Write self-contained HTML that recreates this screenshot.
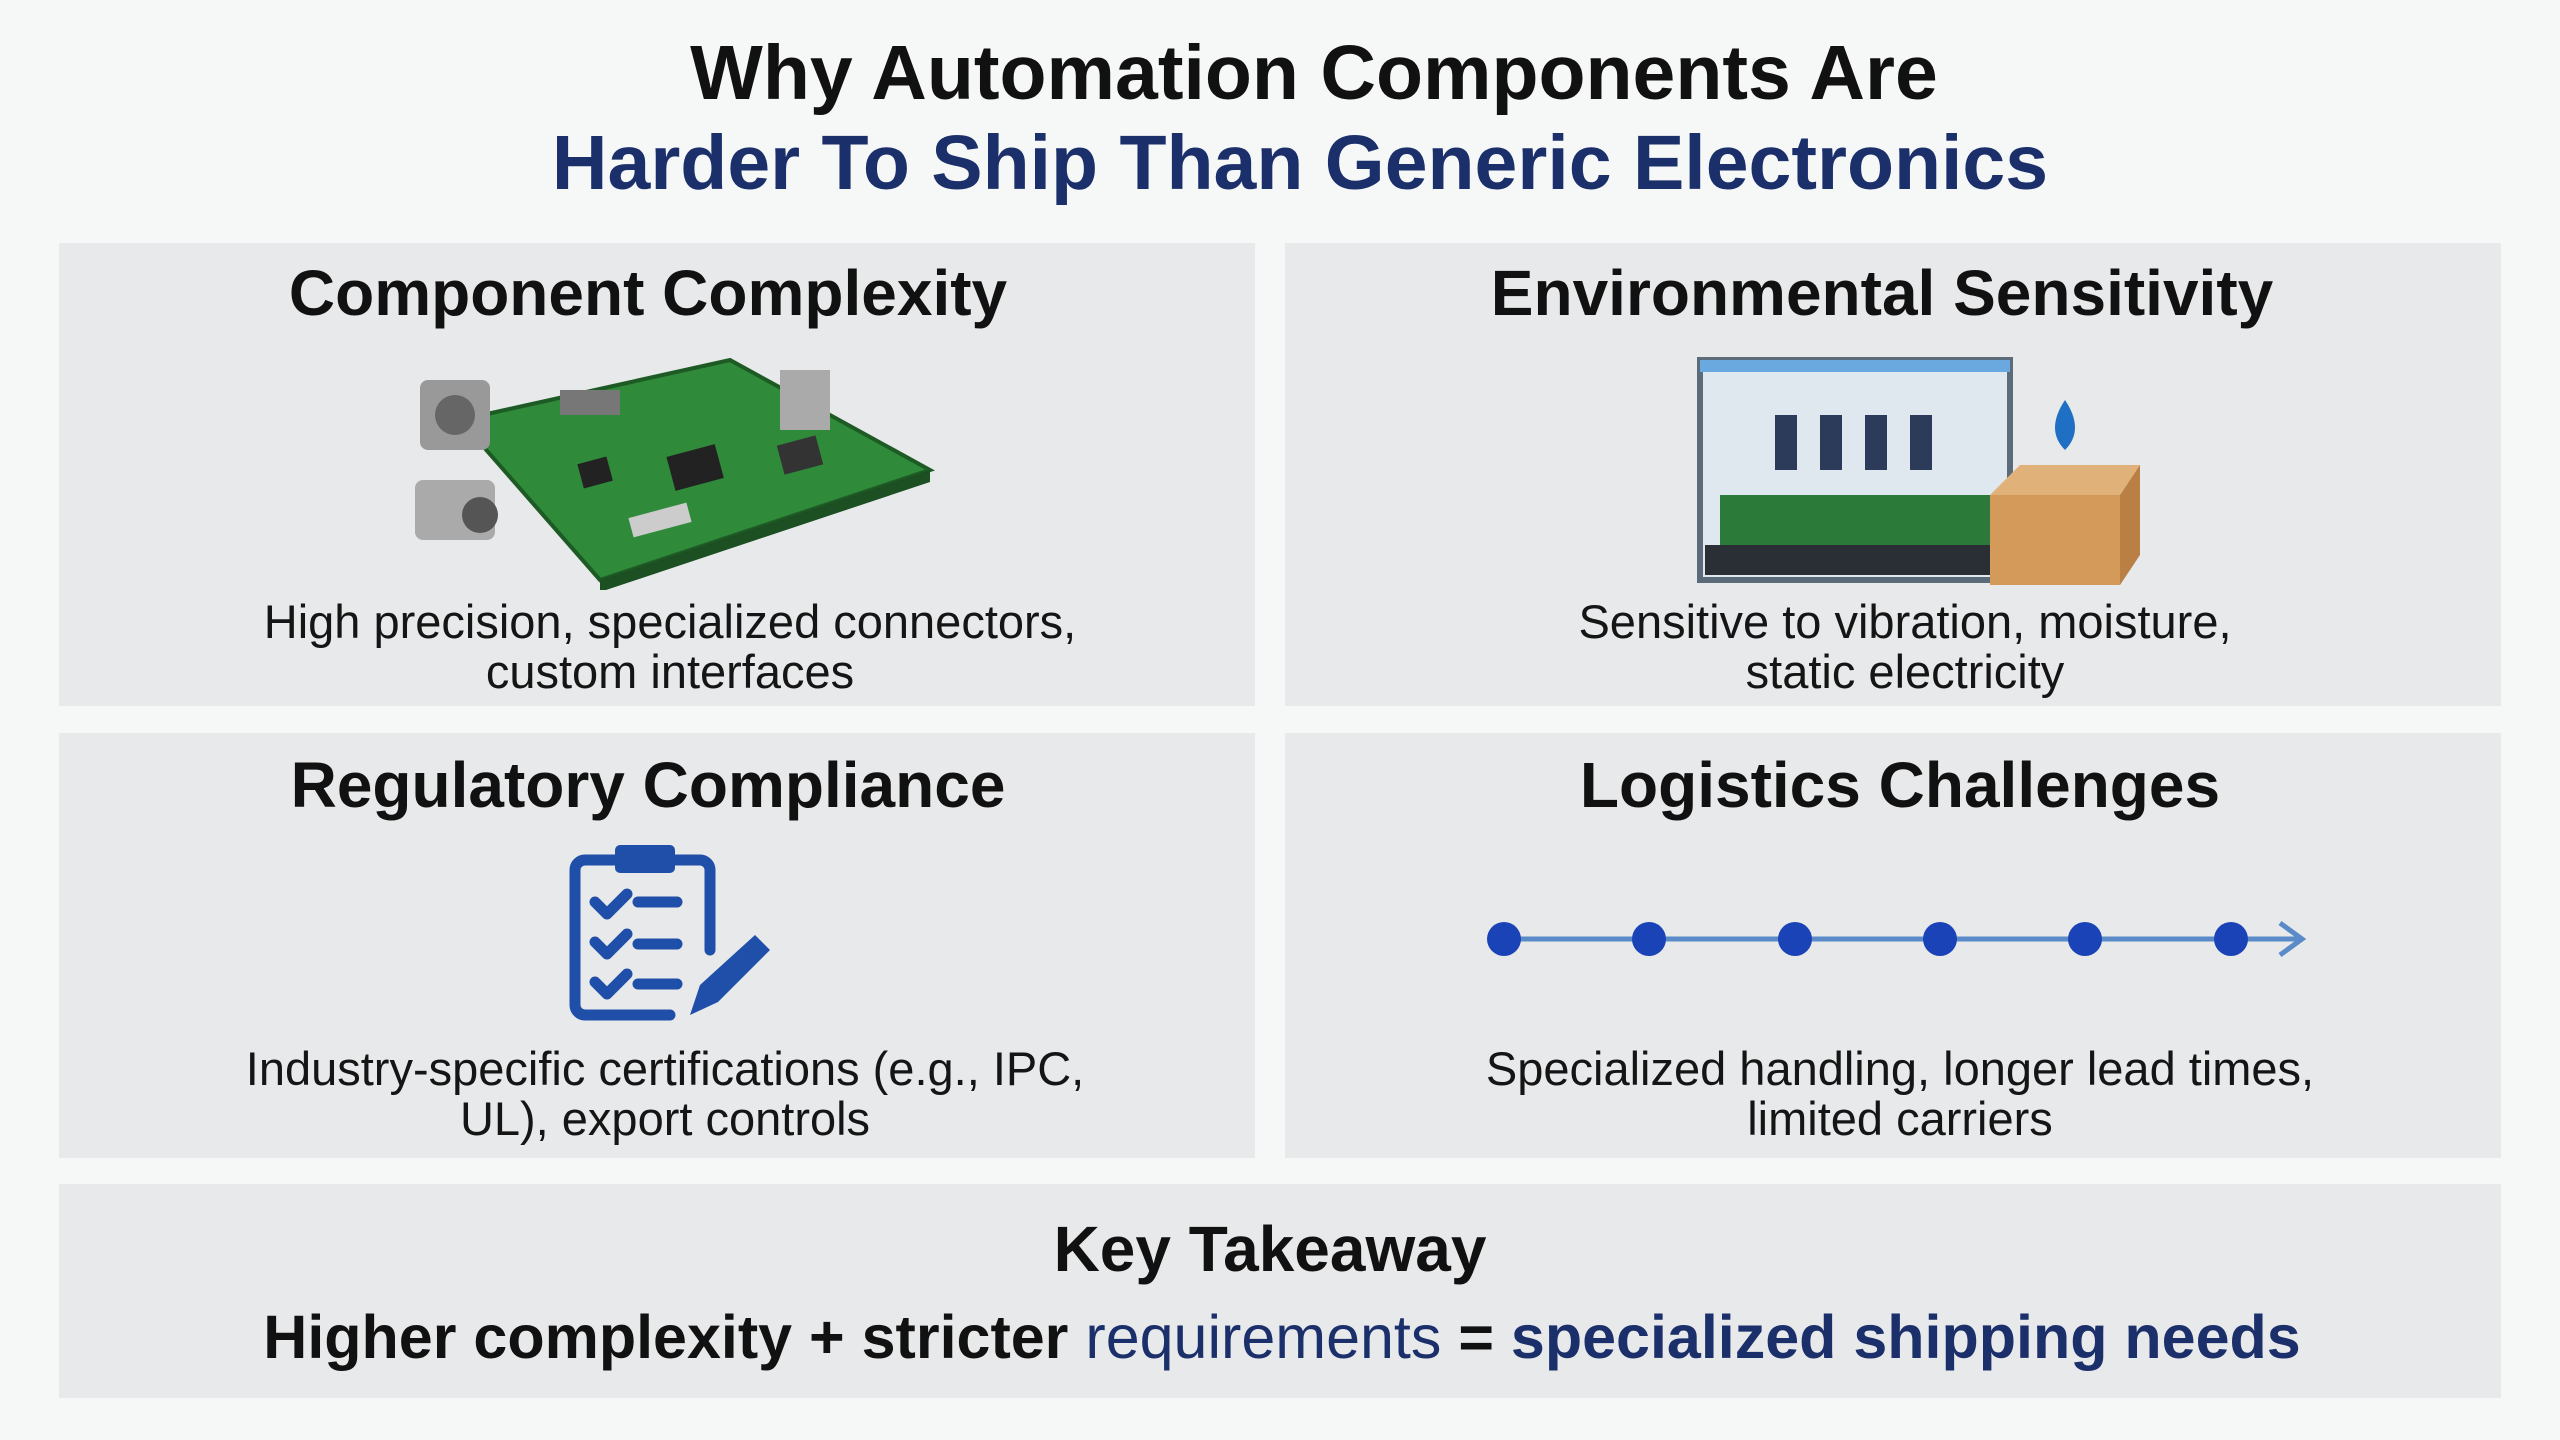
<!DOCTYPE html>
<html><head><meta charset="utf-8"><style>
html,body{margin:0;padding:0}
body{width:2560px;height:1440px;background:#f6f7f7;position:relative;overflow:hidden;font-family:"Liberation Sans",sans-serif;color:#111}
.t{position:absolute;left:0;width:2560px;text-align:center;font-weight:bold;white-space:nowrap}
.p{position:absolute;background:#e8e9ea}
.c{position:absolute;text-align:center;white-space:nowrap;transform:translateX(-50%)}
.h{font-weight:bold;font-size:64px}
.d{font-size:47px;line-height:50px;color:#151515}
.n{color:#1b2f6b}
</style></head><body>
<div class="t" style="top:29px;left:34px;font-size:77px">Why Automation Components Are</div>
<div class="t n" style="top:119px;left:20px;font-size:77px">Harder To Ship Than Generic Electronics</div>

<div class="p" style="left:59px;top:243px;width:1196px;height:463px"></div>
<div class="p" style="left:1285px;top:243px;width:1216px;height:463px"></div>
<div class="p" style="left:59px;top:733px;width:1196px;height:425px"></div>
<div class="p" style="left:1285px;top:733px;width:1216px;height:425px"></div>
<div class="p" style="left:59px;top:1184px;width:2442px;height:214px"></div>

<div class="c h" style="left:648px;top:256px">Component Complexity</div>
<div class="c h" style="left:1882px;top:256px">Environmental Sensitivity</div>
<div class="c h" style="left:648px;top:748px">Regulatory Compliance</div>
<div class="c h" style="left:1900px;top:748px">Logistics Challenges</div>

<div class="c d" style="left:670px;top:597px">High precision, specialized connectors,<br>custom interfaces</div>
<div class="c d" style="left:1905px;top:597px">Sensitive to vibration, moisture,<br>static electricity</div>
<div class="c d" style="left:665px;top:1044px">Industry-specific certifications (e.g., IPC,<br>UL), export controls</div>
<div class="c d" style="left:1900px;top:1044px">Specialized handling, longer lead times,<br>limited carriers</div>

<div class="c h" style="left:1270px;top:1212px">Key Takeaway</div>
<div class="c" style="left:1282px;top:1302px;font-size:61px;font-weight:bold">Higher complexity + stricter <span class="n" style="font-weight:normal">requirements</span> = <span class="n">specialized shipping needs</span></div>

<!-- PCB -->
<svg style="position:absolute;left:400px;top:340px" width="540" height="250" viewBox="0 0 540 250">
<polygon points="60,80 330,20 530,130 200,240" fill="#2f8a3a" stroke="#1d5a24" stroke-width="4"/>
<polygon points="200,240 530,130 530,142 200,252" fill="#1c4f22"/>
<rect x="270" y="110" width="50" height="35" fill="#222" transform="rotate(-15 295 127)"/>
<rect x="180" y="120" width="30" height="25" fill="#222" transform="rotate(-15 195 132)"/>
<rect x="380" y="100" width="40" height="30" fill="#333" transform="rotate(-15 400 115)"/>
<rect x="230" y="170" width="60" height="20" fill="#ccc" transform="rotate(-15 260 180)"/>
<rect x="380" y="30" width="50" height="60" fill="#aaa"/>
<rect x="20" y="40" width="70" height="70" fill="#999" rx="8"/>
<circle cx="55" cy="75" r="20" fill="#666"/>
<rect x="15" y="140" width="80" height="60" fill="#aaa" rx="8"/>
<circle cx="80" cy="175" r="18" fill="#555"/>
<rect x="160" y="50" width="60" height="25" fill="#777"/>
</svg>

<!-- enclosure + box -->
<svg style="position:absolute;left:1690px;top:355px" width="460" height="240" viewBox="0 0 460 240">
<rect x="10" y="5" width="310" height="220" fill="#dfe8ef" stroke="#5b6b7a" stroke-width="6"/>
<rect x="10" y="5" width="310" height="12" fill="#6aa8e0"/>
<g fill="#2d3b5a"><rect x="85" y="60" width="22" height="55"/><rect x="130" y="60" width="22" height="55"/><rect x="175" y="60" width="22" height="55"/><rect x="220" y="60" width="22" height="55"/></g>
<rect x="30" y="140" width="270" height="50" fill="#2c7a3a"/>
<rect x="15" y="190" width="300" height="30" fill="#2a2f36"/>
<path d="M375 45 q-20 30 0 50 q20 -20 0 -50z" fill="#1f6fc4"/>
<polygon points="300,140 430,140 450,110 330,110" fill="#e0b27a"/>
<rect x="300" y="140" width="130" height="90" fill="#d49a5a"/>
<polygon points="430,140 450,110 450,200 430,230" fill="#b97f44"/>
</svg>

<!-- clipboard -->
<svg style="position:absolute;left:560px;top:840px" width="220" height="200" viewBox="0 0 220 200">
<g fill="none" stroke="#1f4fa8" stroke-width="11" stroke-linecap="round" stroke-linejoin="round">
<path d="M150 110 V30 a10 10 0 0 0 -10 -10 H25 a10 10 0 0 0 -10 10 V165 a10 10 0 0 0 10 10 H110"/>
<path d="M35 62 l12 12 l20 -20 M35 102 l12 12 l20 -20 M35 142 l12 12 l20 -20"/>
<path d="M78 62 H117 M78 104 H117 M78 144 H117"/>
</g>
<rect x="55" y="5" width="60" height="28" rx="5" fill="#1f4fa8"/>
<polygon points="130,175 140,145 195,95 210,110 158,162" fill="#1f4fa8"/>
</svg>

<!-- timeline -->
<svg style="position:absolute;left:1480px;top:915px" width="850" height="50">
<line x1="24" y1="24" x2="820" y2="24" stroke="#5b8ac8" stroke-width="5"/>
<polyline points="800,8 822,24 800,40" fill="none" stroke="#5b8ac8" stroke-width="5"/>
<g fill="#1a43b8"><circle cx="24" cy="24" r="17"/><circle cx="169" cy="24" r="17"/><circle cx="315" cy="24" r="17"/><circle cx="460" cy="24" r="17"/><circle cx="605" cy="24" r="17"/><circle cx="751" cy="24" r="17"/></g>
</svg>
</body></html>
